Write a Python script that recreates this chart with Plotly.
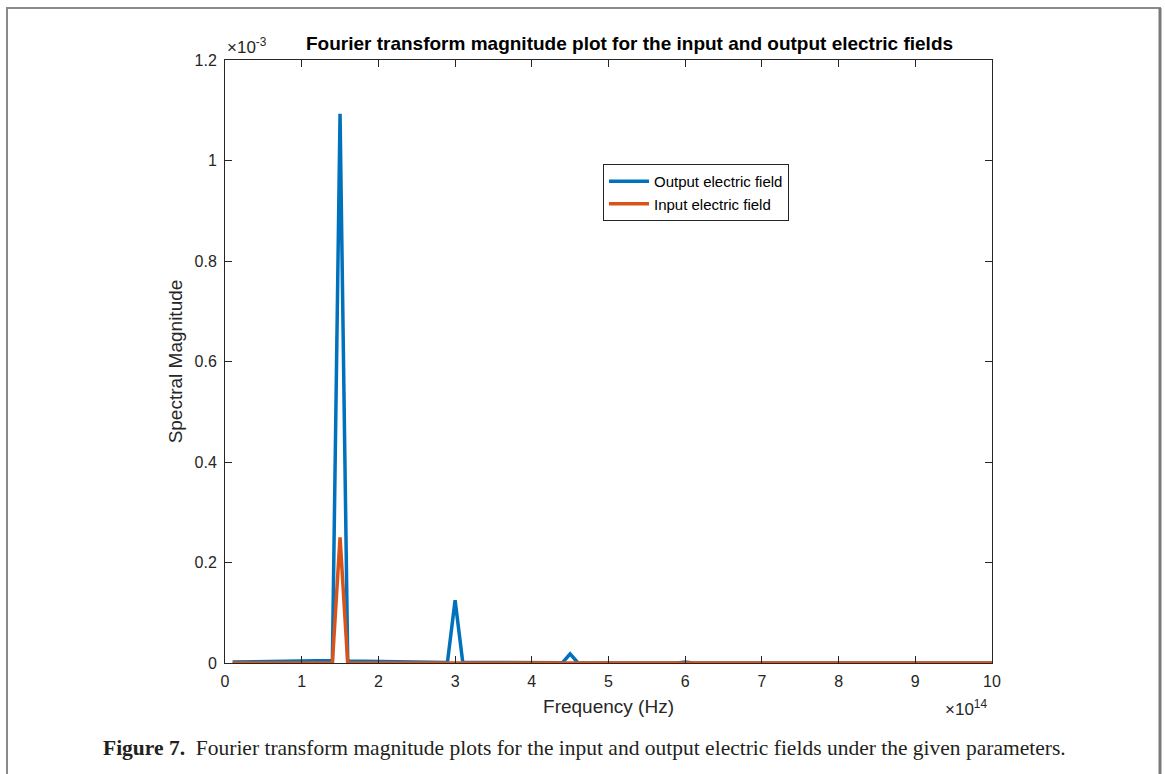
import plotly.graph_objects as go

# Frequency in units of 1e14 Hz (line vertices)
out_freq = [0.1, 1.4, 1.5, 1.6, 2.9, 3.0, 3.1, 4.4, 4.5, 4.6, 5.9, 6.0, 6.1, 10.0]
out_mag = [0.002, 0.005, 1.093, 0.004, 0.001, 0.125, 0.001, 0.0005, 0.018, 0.0005, 0.0, 0.002, 0.0, 0.0]  # x1e-3

in_freq = [0.1, 1.4, 1.5, 1.6, 10.0]
in_mag = [0.0, 0.0, 0.25, 0.0, 0.0]  # x1e-3

x_ticks = [0, 1, 2, 3, 4, 5, 6, 7, 8, 9, 10]
y_ticks = [0, 0.2, 0.4, 0.6, 0.8, 1.0, 1.2]
y_tick_text = ["0", "0.2", "0.4", "0.6", "0.8", "1", "1.2"]

BLUE = "#0072BD"
ORANGE = "#D95319"
FONT = "Liberation Sans, Arial, sans-serif"

fig = go.Figure()
fig.add_trace(go.Scatter(x=out_freq, y=out_mag, mode="lines", name="Output electric field",
                         line=dict(color=BLUE, width=3.5)))
fig.add_trace(go.Scatter(x=in_freq, y=in_mag, mode="lines", name="Input electric field",
                         line=dict(color=ORANGE, width=3.5)))

L, R, T, B = 225, 992, 60, 663
W, H = 1165, 774
pw, ph = R - L, B - T


def px(x):
    return (x - L) / pw


def py(y):
    return (B - y) / ph


axis_common = dict(showgrid=False, zeroline=False, showline=True, linecolor="#262626", linewidth=1,
                   mirror="ticks", ticks="inside", ticklen=7, tickcolor="#262626",
                   tickfont=dict(family=FONT, size=16, color="#262626"))

fig.update_layout(
    width=W, height=H,
    margin=dict(l=L, r=W - R, t=T, b=H - B),
    paper_bgcolor="white", plot_bgcolor="white",
    showlegend=True,
    legend=dict(x=px(603), y=py(164), xanchor="left", yanchor="top",
                bordercolor="#262626", borderwidth=1, bgcolor="white",
                font=dict(family=FONT, size=15, color="black"),
                tracegroupgap=0, itemwidth=40),
    xaxis=dict(range=[0, 10], tickvals=x_ticks, ticktext=[str(v) for v in x_ticks],
               ticklabelstandoff=4,
               title=dict(text="Frequency (Hz)", font=dict(family=FONT, size=19, color="#262626"), standoff=10),
               **axis_common),
    yaxis=dict(range=[0, 1.2], tickvals=y_ticks, ticktext=y_tick_text,
               ticklabelstandoff=4,
               title=dict(text="Spectral Magnitude", font=dict(family=FONT, size=19, color="#262626"), standoff=6),
               **axis_common),
)

annotations = [
    dict(text="<b>Fourier transform magnitude plot for the input and output electric fields</b>",
         x=px(629), y=py(44), xref="paper", yref="paper", showarrow=False,
         font=dict(family=FONT, size=19, color="black"), xanchor="center", yanchor="middle"),
    dict(text="×10<sup>-3</sup>", x=px(225), y=py(46), xref="paper", yref="paper", showarrow=False,
         font=dict(family=FONT, size=17, color="#262626"), xanchor="left", yanchor="middle"),
    dict(text="×10<sup>14</sup>", x=px(989), y=py(708), xref="paper", yref="paper", showarrow=False,
         font=dict(family=FONT, size=17, color="#262626"), xanchor="right", yanchor="middle"),
    dict(text="<b>Figure 7.</b>  Fourier transform magnitude plots for the input and output electric fields under the given parameters.",
         x=px(584), y=py(748), xref="paper", yref="paper", showarrow=False,
         font=dict(family="Liberation Serif, Times New Roman, serif", size=21.5, color="#231f20"),
         xanchor="center", yanchor="middle"),
]
fig.update_layout(annotations=annotations)

shapes = [
    dict(type="line", xref="paper", yref="paper", x0=px(7), x1=px(7), y0=py(8), y1=py(790),
         line=dict(color="#8a8a8a", width=2)),
    dict(type="line", xref="paper", yref="paper", x0=px(6), x1=px(1161), y0=py(8), y1=py(8),
         line=dict(color="#8a8a8a", width=2)),
    dict(type="line", xref="paper", yref="paper", x0=px(1160), x1=px(1160), y0=py(8), y1=py(790),
         line=dict(color="#7a7a7a", width=3)),
]
fig.update_layout(shapes=shapes)

fig.write_html("out.html")
